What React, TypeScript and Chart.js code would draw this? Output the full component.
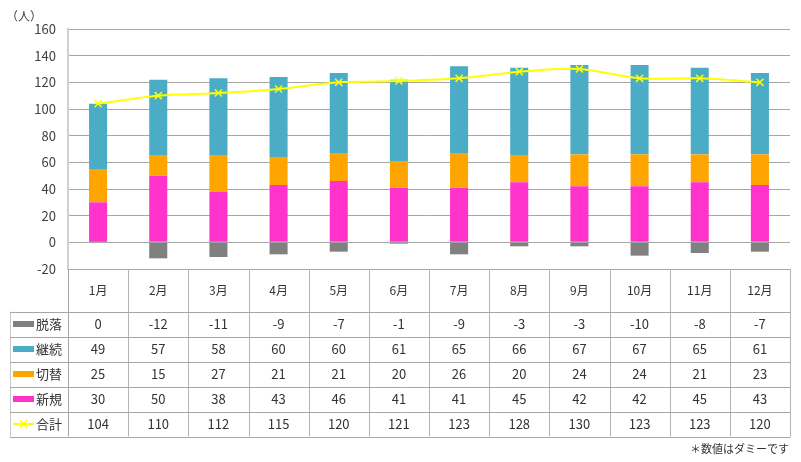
import React, { useEffect, useRef } from "react";
import { Chart, registerables } from "chart.js";

Chart.register(...registerables);

const months = ["1月", "2月", "3月", "4月", "5月", "6月", "7月", "8月", "9月", "10月", "11月", "12月"];
const dropout = [0, -12, -11, -9, -7, -1, -9, -3, -3, -10, -8, -7];
const continuing = [49, 57, 58, 60, 60, 61, 65, 66, 67, 67, 65, 61];
const switching = [25, 15, 27, 21, 21, 20, 26, 20, 24, 24, 21, 23];
const newcomers = [30, 50, 38, 43, 46, 41, 41, 45, 42, 42, 45, 43];
const totals = [104, 110, 112, 115, 120, 121, 123, 128, 130, 123, 123, 120];
const yMin = -20;
const yMax = 160;
const yStep = 20;

const FONT = '"Noto Sans CJK JP", "Noto Sans", sans-serif';
const TEXT = "#404040";
const C_DROP = "#808080";
const C_CONT = "#4BACC6";
const C_SWITCH = "#FFA500";
const C_NEW = "#FF33CC";
const C_SUM = "#FFFF00";

type Row = { label: string; values: number[]; color: string; line?: boolean };
const tableRows: Row[] = [
  { label: "脱落", values: dropout, color: C_DROP },
  { label: "継続", values: continuing, color: C_CONT },
  { label: "切替", values: switching, color: C_SWITCH },
  { label: "新規", values: newcomers, color: C_NEW },
  { label: "合計", values: totals, color: C_SUM, line: true },
];

const tablePlugin = {
  id: "dataTable",
  afterDraw(chart: any) {
    const ctx = chart.ctx as CanvasRenderingContext2D;
    const { left, right, bottom } = chart.chartArea;
    const xs = chart.scales.x;
    const n = months.length;
    const colW = (right - left) / n;
    const monthBottom = 311.5;
    const rowH = 25;
    const tableBottom = monthBottom + rowH * tableRows.length;
    const legLeft = 10;

    ctx.save();
    ctx.lineWidth = 1;
    ctx.strokeStyle = "#b4b4b4";
    // vertical column lines
    for (let i = 1; i <= n; i++) {
      const x = Math.round(left + colW * i) + 0.5;
      ctx.beginPath();
      ctx.moveTo(x, bottom);
      ctx.lineTo(x, tableBottom);
      ctx.stroke();
    }
    // left axis continuation
    ctx.strokeStyle = "#a6a6a6";
    ctx.beginPath();
    ctx.moveTo(left + 0.5, bottom);
    ctx.lineTo(left + 0.5, tableBottom);
    ctx.stroke();
    // legend column left
    ctx.strokeStyle = "#c8c8c8";
    ctx.beginPath();
    ctx.moveTo(legLeft + 0.5, monthBottom);
    ctx.lineTo(legLeft + 0.5, tableBottom);
    ctx.stroke();
    // horizontal lines
    ctx.strokeStyle = "#a6a6a6";
    for (let r = 0; r <= tableRows.length; r++) {
      const y = Math.round(monthBottom + rowH * r) + 0.5;
      ctx.beginPath();
      ctx.moveTo(legLeft, y);
      ctx.lineTo(right + 0.5, y);
      ctx.stroke();
    }

    ctx.fillStyle = "#333333";
    ctx.font = `12px ${FONT}`;
    ctx.textAlign = "center";
    ctx.textBaseline = "middle";
    months.forEach((m, i) => {
      ctx.fillText(m, xs.getPixelForValue(i), (bottom + monthBottom) / 2);
    });

    ctx.font = `13px ${FONT}`;
    tableRows.forEach((row, r) => {
      const cy = monthBottom + rowH * r + rowH / 2;
      row.values.forEach((v, i) => {
        ctx.fillStyle = "#333333";
        ctx.textAlign = "center";
        ctx.fillText(String(v), xs.getPixelForValue(i), cy + 0.5);
      });
      // legend key
      if (row.line) {
        ctx.strokeStyle = row.color;
        ctx.lineWidth = 2;
        ctx.beginPath();
        ctx.moveTo(13, cy);
        ctx.lineTo(34, cy);
        ctx.stroke();
        ctx.lineWidth = 1.5;
        ctx.beginPath();
        ctx.moveTo(20, cy - 4);
        ctx.lineTo(27, cy + 4);
        ctx.moveTo(27, cy - 4);
        ctx.lineTo(20, cy + 4);
        ctx.stroke();
      } else {
        ctx.fillStyle = row.color;
        ctx.fillRect(13, cy - 3, 21, 6);
      }
      ctx.fillStyle = "#333333";
      ctx.textAlign = "left";
      ctx.fillText(row.label, 36, cy + 0.5);
    });

    // unit label
    ctx.fillStyle = TEXT;
    ctx.font = `12px ${FONT}`;
    ctx.textAlign = "left";
    ctx.fillText("（人）", 6, 16);

    // footnote
    ctx.font = `11px ${FONT}`;
    ctx.textAlign = "right";
    ctx.fillStyle = "#333333";
    ctx.fillText("＊数値はダミーです", 789, 449);
    ctx.restore();
  },
};

export default function App() {
  const ref = useRef<HTMLCanvasElement>(null);
  useEffect(() => {
    if (!ref.current) return;
    const chart = new Chart(ref.current, {
      type: "bar",
      data: {
        labels: months,
        datasets: [
          {
            type: "line",
            label: "合計",
            data: totals,
            borderColor: C_SUM,
            backgroundColor: C_SUM,
            borderWidth: 2,
            tension: 0.3,
            pointStyle: "crossRot",
            pointRadius: 5,
            pointBorderWidth: 1.5,
            pointBorderColor: C_SUM,
            stack: "sum",
            order: 0,
          } as any,
          { label: "新規", data: newcomers, backgroundColor: C_NEW, stack: "s", order: 1, barPercentage: 0.3, categoryPercentage: 1 },
          { label: "切替", data: switching, backgroundColor: C_SWITCH, stack: "s", order: 1, barPercentage: 0.3, categoryPercentage: 1 },
          { label: "継続", data: continuing, backgroundColor: C_CONT, stack: "s", order: 1, barPercentage: 0.3, categoryPercentage: 1 },
          { label: "脱落", data: dropout, backgroundColor: C_DROP, stack: "s", order: 1, barPercentage: 0.3, categoryPercentage: 1 },
        ],
      },
      options: {
        animation: false,
        responsive: false,
        maintainAspectRatio: false,
        layout: { padding: { left: 0, right: 11, top: 29, bottom: 193 } },
        plugins: { legend: { display: false }, tooltip: { enabled: false } },
        scales: {
          x: { display: false, stacked: true, offset: true },
          y: {
            stacked: true,
            min: yMin,
            max: yMax,
            ticks: {
              stepSize: yStep,
              color: TEXT,
              padding: 12,
              font: { family: FONT, size: 13 },
            },
            grid: { color: "#a6a6a6", lineWidth: 1, drawTicks: false },
            border: { display: true, color: "#d0d0d0", width: 2 },
            afterFit: (scale: any) => {
              scale.width = 68;
            },
          },
        },
      },
      plugins: [tablePlugin],
    });
    return () => chart.destroy();
  }, []);
  return (
    <div style={{ position: "absolute", left: 0, top: 0, width: 801, height: 462, background: "#fff" }}>
      <canvas ref={ref} width={801} height={462} style={{ display: "block" }} />
    </div>
  );
}
